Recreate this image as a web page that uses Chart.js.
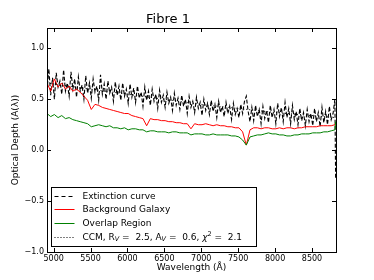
<!DOCTYPE html>
<html>
<head>
<meta charset="utf-8">
<title>Fibre 1</title>
<script src="https://cdn.jsdelivr.net/npm/chart.js@4.4.1/dist/chart.umd.min.js"></script>
<style>
  html, body { margin: 0; padding: 0; background: #fff; }
  #wrap { width: 374px; height: 280px; }
</style>
</head>
<body>
<div id="wrap"><canvas id="fibreChart" width="374" height="280"></canvas></div>
<script>
// Wavelength grid (Angstrom) for the galaxy spectra
const wavelength = [
  4910, 4960, 5010, 5060, 5110, 5160, 5210, 5260, 5310, 5360,
  5410, 5460, 5510, 5560, 5610, 5660, 5710, 5760, 5810, 5860,
  5910, 5960, 6010, 6060, 6110, 6160, 6210, 6260, 6310, 6360,
  6410, 6460, 6510, 6560, 6610, 6660, 6710, 6760, 6810, 6860,
  6910, 6960, 7010, 7060, 7110, 7160, 7210, 7260, 7310, 7360,
  7410, 7460, 7510, 7560, 7610, 7660, 7710, 7760, 7810, 7860,
  7910, 7960, 8010, 8060, 8110, 8160, 8210, 8260, 8310, 8360,
  8410, 8460, 8510, 8560, 8610, 8660, 8710, 8760, 8810, 8820
];

// Finer grid for the noisy extinction curve
const extWavelength = [
  4910, 4935, 4960, 4985, 5010, 5035, 5060, 5085,
  5110, 5135, 5160, 5185, 5210, 5235, 5260, 5285,
  5310, 5335, 5360, 5385, 5410, 5435, 5460, 5485,
  5510, 5535, 5560, 5585, 5610, 5635, 5660, 5685,
  5710, 5735, 5760, 5785, 5810, 5835, 5860, 5885,
  5910, 5935, 5960, 5985, 6010, 6035, 6060, 6085,
  6110, 6135, 6160, 6185, 6210, 6235, 6260, 6285,
  6310, 6335, 6360, 6385, 6410, 6435, 6460, 6485,
  6510, 6535, 6560, 6585, 6610, 6635, 6660, 6685,
  6710, 6735, 6760, 6785, 6810, 6835, 6860, 6885,
  6910, 6935, 6960, 6985, 7010, 7035, 7060, 7085,
  7110, 7135, 7160, 7185, 7210, 7235, 7260, 7285,
  7310, 7335, 7360, 7385, 7410, 7435, 7460, 7485,
  7510, 7535, 7560, 7585, 7610, 7635, 7660, 7685,
  7710, 7735, 7760, 7785, 7810, 7835, 7860, 7885,
  7910, 7935, 7960, 7985, 8010, 8035, 8060, 8085,
  8110, 8135, 8160, 8185, 8210, 8235, 8260, 8285,
  8310, 8335, 8360, 8385, 8410, 8435, 8460, 8485,
  8510, 8535, 8560, 8585, 8610, 8635, 8660, 8685,
  8710, 8735, 8760, 8785, 8810, 8820
];

// Optical depth values
const extinctionCurve = [
  0.58, 0.80, 0.54, 0.71, 0.50, 0.76, 0.62, 0.68,
  0.55, 0.79, 0.58, 0.66, 0.53, 0.77, 0.60, 0.70,
  0.52, 0.72, 0.58, 0.64, 0.50, 0.73, 0.56, 0.66,
  0.51, 0.70, 0.57, 0.63, 0.49, 0.74, 0.55, 0.65,
  0.50, 0.68, 0.56, 0.62, 0.48, 0.67, 0.54, 0.63,
  0.49, 0.66, 0.53, 0.60, 0.46, 0.65, 0.52, 0.61,
  0.47, 0.63, 0.51, 0.57, 0.43, 0.62, 0.49, 0.58,
  0.44, 0.60, 0.48, 0.55, 0.41, 0.59, 0.47, 0.54,
  0.42, 0.57, 0.46, 0.52, 0.39, 0.56, 0.44, 0.51,
  0.40, 0.54, 0.43, 0.50, 0.36, 0.53, 0.42, 0.48,
  0.37, 0.52, 0.41, 0.47, 0.34, 0.50, 0.39, 0.46,
  0.35, 0.49, 0.38, 0.45, 0.32, 0.48, 0.37, 0.43,
  0.33, 0.47, 0.36, 0.43, 0.30, 0.46, 0.35, 0.41,
  0.32, 0.45, 0.36, 0.48, 0.53, 0.38, 0.28, 0.42,
  0.29, 0.44, 0.33, 0.40, 0.26, 0.43, 0.31, 0.39,
  0.27, 0.44, 0.32, 0.40, 0.26, 0.46, 0.33, 0.42,
  0.28, 0.47, 0.32, 0.41, 0.26, 0.44, 0.30, 0.38,
  0.25, 0.41, 0.29, 0.37, 0.24, 0.40, 0.28, 0.36,
  0.24, 0.41, 0.28, 0.37, 0.23, 0.42, 0.27, 0.38,
  0.25, 0.43, 0.30, 0.36, 0.50, -0.28
];
const backgroundGalaxy = [
  0.66, 0.58, 0.70, 0.62, 0.66, 0.60, 0.63, 0.58, 0.60, 0.57,
  0.53, 0.49, 0.40, 0.45, 0.44, 0.42, 0.41, 0.40, 0.39, 0.38,
  0.37, 0.36, 0.36, 0.34, 0.33, 0.32, 0.31, 0.24, 0.31, 0.30,
  0.30, 0.29, 0.29, 0.28, 0.28, 0.27, 0.27, 0.26, 0.26, 0.21,
  0.26, 0.25, 0.25, 0.26, 0.25, 0.24, 0.25, 0.24, 0.24, 0.23,
  0.23, 0.22, 0.22, 0.18, 0.05, 0.20, 0.22, 0.22, 0.21, 0.22,
  0.22, 0.21, 0.21, 0.22, 0.21, 0.22, 0.22, 0.21, 0.22, 0.22,
  0.23, 0.23, 0.23, 0.23, 0.24, 0.24, 0.24, 0.24, 0.25, 0.27
];
const overlapRegion = [
  0.36, 0.33, 0.35, 0.32, 0.34, 0.31, 0.32, 0.30, 0.29, 0.28,
  0.27, 0.26, 0.23, 0.24, 0.25, 0.24, 0.23, 0.24, 0.22, 0.22,
  0.21, 0.22, 0.20, 0.21, 0.21, 0.20, 0.20, 0.18, 0.19, 0.19,
  0.18, 0.18, 0.18, 0.17, 0.18, 0.18, 0.17, 0.17, 0.17, 0.15,
  0.16, 0.16, 0.16, 0.15, 0.15, 0.16, 0.15, 0.15, 0.15, 0.15,
  0.14, 0.14, 0.13, 0.10, 0.05, 0.13, 0.14, 0.15, 0.15, 0.16,
  0.17, 0.16, 0.16, 0.15, 0.15, 0.14, 0.14, 0.15, 0.15, 0.16,
  0.16, 0.16, 0.17, 0.17, 0.17, 0.18, 0.18, 0.19, 0.20, 0.28
];

// CCM fit (smooth, mostly hidden under the extinction curve)
const ccmWavelength = [4910, 5500, 6000, 6500, 7000, 7500, 8000, 8500, 8820];
const ccmCurve = [0.66, 0.60, 0.55, 0.50, 0.45, 0.41, 0.37, 0.34, 0.32];

const xTicks = [5000, 5500, 6000, 6500, 7000, 7500, 8000, 8500];
const yTicks = [-1.0, -0.5, 0.0, 0.5, 1.0];

const FONT = '"DejaVu Sans", "Liberation Sans", sans-serif';

function pairs(xs, ys) {
  return xs.map((x, i) => ({ x: x, y: ys[i] }));
}

// Frame with inward ticks on all four sides, plus the legend box
const frameAndLegend = {
  id: 'frameAndLegend',
  afterDraw(chart) {
    const ctx = chart.ctx;
    const a = chart.chartArea;
    const xs = chart.scales.x;
    const ys = chart.scales.y;

    ctx.save();
    ctx.strokeStyle = '#000';
    ctx.lineWidth = 1;
    ctx.setLineDash([]);
    ctx.strokeRect(Math.round(a.left) + 0.5, Math.round(a.top) + 0.5,
      Math.round(a.right - a.left), Math.round(a.bottom - a.top));

    ctx.beginPath();
    xTicks.forEach(function(v) {
      const px = Math.round(xs.getPixelForValue(v)) + 0.5;
      ctx.moveTo(px, a.bottom); ctx.lineTo(px, a.bottom - 4);
      ctx.moveTo(px, a.top); ctx.lineTo(px, a.top + 4);
    });
    yTicks.forEach(function(v) {
      const py = Math.round(ys.getPixelForValue(v)) + 0.5;
      ctx.moveTo(a.left, py); ctx.lineTo(a.left + 4, py);
      ctx.moveTo(a.right, py); ctx.lineTo(a.right - 4, py);
    });
    ctx.stroke();

    // Legend
    const bx = Math.round(a.left) + 4.5;
    const by = Math.round(a.bottom) - 64.5;
    const bw = 205, bh = 59;
    ctx.fillStyle = '#fff';
    ctx.fillRect(bx, by, bw, bh);
    ctx.strokeRect(bx, by, bw, bh);

    const rows = [
      { color: '#000', dash: [4, 3], label: 'Extinction curve' },
      { color: '#ff0000', dash: [], label: 'Background Galaxy' },
      { color: '#008000', dash: [], label: 'Overlap Region' },
      { color: '#000', dash: [1, 2], label: null }
    ];
    const rowY = [8, 21.5, 35, 49];
    ctx.font = '9px ' + FONT;
    ctx.textBaseline = 'middle';
    ctx.textAlign = 'left';
    rows.forEach(function(r, i) {
      const y = Math.round(by + rowY[i]) + 0.5;
      ctx.strokeStyle = r.color;
      ctx.setLineDash(r.dash);
      ctx.beginPath();
      ctx.moveTo(bx + 3, y); ctx.lineTo(bx + 23, y);
      ctx.stroke();
      ctx.setLineDash([]);
      ctx.fillStyle = '#000';
      const tx = bx + 31;
      if (r.label) {
        ctx.fillText(r.label, tx, y);
      } else {
        // CCM, R_V = 2.5, A_V = 0.6, chi^2 = 2.1
        const parts = [
          { t: 'CCM, R', s: 0 },
          { t: 'V', s: 1 },
          { t: ' =  2.5, A', s: 0 },
          { t: 'V', s: 1 },
          { t: ' =  0.6, ', s: 0 },
          { t: 'χ', s: 2 },
          { t: '2', s: 3 },
          { t: ' =  2.1', s: 0 }
        ];
        let cx = tx;
        parts.forEach(function(p) {
          let dy = 0;
          if (p.s === 1) { ctx.font = 'italic 6.5px ' + FONT; dy = 2; }
          else if (p.s === 2) { ctx.font = 'italic 9px ' + FONT; }
          else if (p.s === 3) { ctx.font = '6.5px ' + FONT; dy = -3; }
          else { ctx.font = '9px ' + FONT; }
          ctx.fillText(p.t, cx, y + dy);
          cx += ctx.measureText(p.t).width;
        });
        ctx.font = '9px ' + FONT;
      }
    });
    ctx.restore();
  }
};

const chart = new Chart(document.getElementById('fibreChart'), {
  type: 'line',
  data: {
    datasets: [
      {
        label: 'Extinction curve',
        data: pairs(extWavelength, extinctionCurve),
        borderColor: '#000',
        borderWidth: 1.1,
        borderDash: [4, 2],
        order: 4
      },
      {
        label: 'Background Galaxy',
        data: pairs(wavelength, backgroundGalaxy),
        borderColor: '#ff0000',
        borderWidth: 1,
        order: 3
      },
      {
        label: 'Overlap Region',
        data: pairs(wavelength, overlapRegion),
        borderColor: '#008000',
        borderWidth: 1,
        order: 2
      },
      {
        label: 'CCM',
        data: pairs(ccmWavelength, ccmCurve),
        borderColor: '#000',
        borderWidth: 1,
        borderDash: [1, 2],
        order: 1
      }
    ]
  },
  options: {
    responsive: false,
    animation: false,
    events: [],
    layout: { padding: { left: 0, right: 38, top: 0, bottom: 0 } },
    elements: {
      point: { radius: 0 },
      line: { tension: 0, fill: false }
    },
    plugins: {
      legend: { display: false },
      tooltip: { enabled: false },
      title: {
        display: true,
        text: 'Fibre 1',
        color: '#000',
        font: { family: FONT, size: 13, weight: 'normal' },
        padding: { top: 12.3, bottom: 0.1 }
      }
    },
    scales: {
      x: {
        type: 'linear',
        min: 4910,
        max: 8825,
        grid: { display: false, drawTicks: false },
        border: { display: false },
        afterBuildTicks: function(scale) {
          scale.ticks = xTicks.map(v => ({ value: v }));
        },
        afterFit: function(scale) { scale.height = 28; },
        ticks: {
          color: '#000',
          padding: 2,
          maxRotation: 0,
          autoSkip: false,
          font: { family: FONT, size: 8 },
          callback: v => String(v)
        },
        title: {
          display: true,
          text: 'Wavelength (Å)',
          color: '#000',
          font: { family: FONT, size: 9 },
          padding: { top: 0, bottom: 6.5 }
        }
      },
      y: {
        type: 'linear',
        min: -1.0,
        max: 1.2,
        grid: { display: false, drawTicks: false },
        border: { display: false },
        afterBuildTicks: function(scale) {
          scale.ticks = yTicks.map(v => ({ value: v }));
        },
        afterFit: function(scale) { scale.width = 47; },
        ticks: {
          color: '#000',
          padding: 3,
          font: { family: FONT, size: 8 },
          callback: v => (v < 0 ? '\u2212' : '') + Math.abs(v).toFixed(1)
        },
        title: {
          display: true,
          text: 'Optical Depth (A(λ))',
          color: '#000',
          font: { family: FONT, size: 9 },
          padding: { top: 10, bottom: 0 }
        }
      }
    }
  },
  plugins: [frameAndLegend]
});
</script>
</body>
</html>
